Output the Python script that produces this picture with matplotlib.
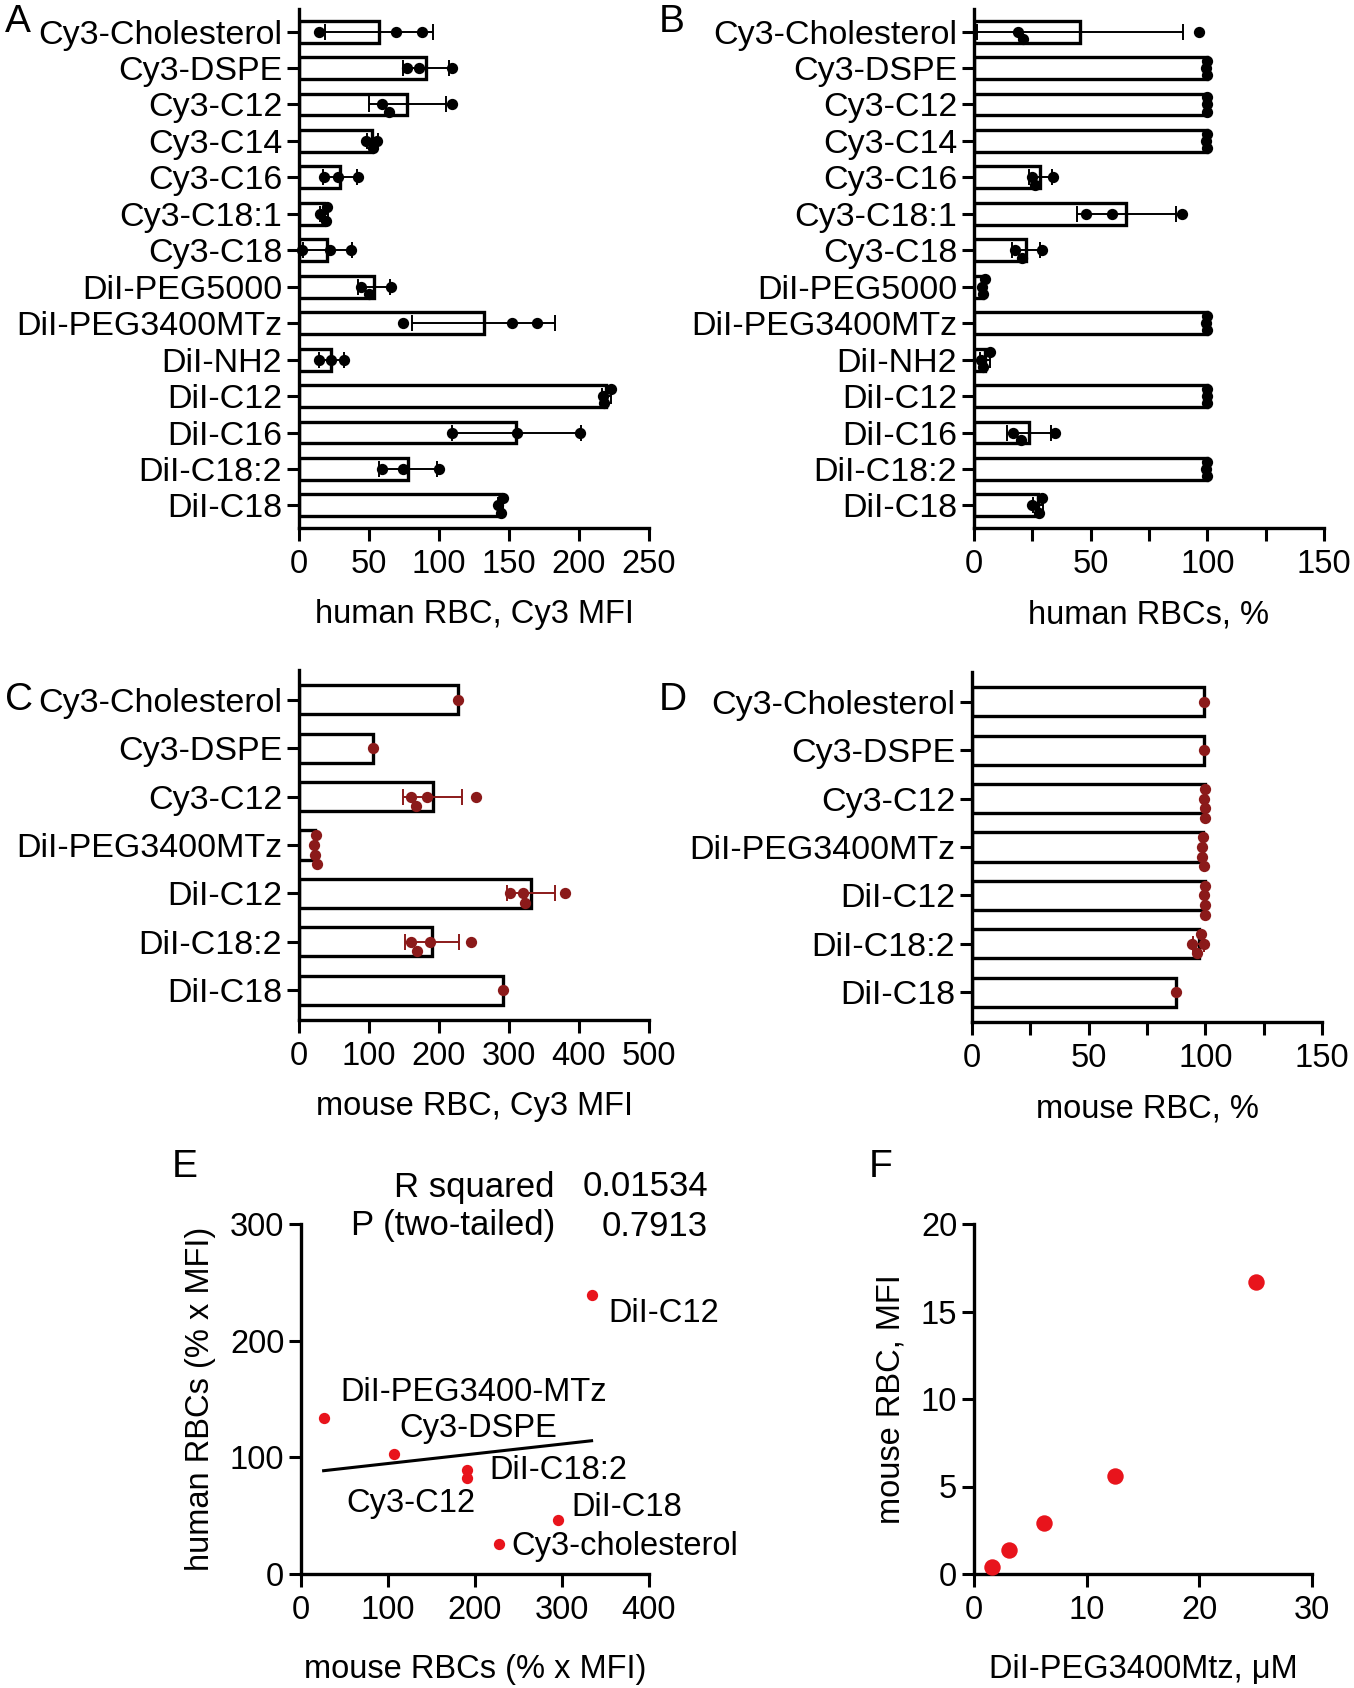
import numpy as np
import matplotlib
matplotlib.use('Agg')
import matplotlib.pyplot as plt
from matplotlib.ticker import MultipleLocator

plt.rcParams['font.family'] = ['Liberation Sans', 'DejaVu Sans']

# ---- data ----
human_labels = ['Cy3-Cholesterol', 'Cy3-DSPE', 'Cy3-C12', 'Cy3-C14', 'Cy3-C16',
                'Cy3-C18:1', 'Cy3-C18', 'DiI-PEG5000', 'DiI-PEG3400MTz', 'DiI-NH2',
                'DiI-C12', 'DiI-C16', 'DiI-C18:2', 'DiI-C18']
human_mfi = [[14, 69, 88], [77, 86, 109], [64, 59, 109], [53, 48, 56], [18, 28, 42],
             [19, 20, 15], [2, 22, 37], [50, 44, 66], [74, 152, 170], [14, 23, 32],
             [218, 223, 217], [109, 156, 201], [59, 74, 100], [144, 146, 142]]
human_pct = [[21, 19, 96.5], [99.6, 99.8, 99.9], [99.7, 99.8, 99.9], [99.6, 99.8, 99.9],
             [25, 26, 34], [48, 59, 89], [20.5, 17.5, 29], [3.5, 4, 4.5],
             [99.6, 99.8, 99.9], [7, 4, 3], [99.7, 99.8, 99.9], [20, 16.5, 34.5],
             [99.6, 99.8, 99.9], [28, 25, 29.3]]

mouse_labels = ['Cy3-Cholesterol', 'Cy3-DSPE', 'Cy3-C12', 'DiI-PEG3400MTz',
                'DiI-C12', 'DiI-C18:2', 'DiI-C18']
mouse_mfi = [[227], [105], [167, 183, 160, 253], [23, 25, 24, 22], [320, 302, 323, 380],
             [169, 187, 160, 246], [292]]
mouse_pct = [[99.6], [99.6], [99.8, 99.6, 99.9, 99.7], [99.2, 98.7, 99.5, 98.4],
             [99.6, 99.8, 99.7, 99.9], [96.5, 98.3, 94.3, 99.3], [87.5]]

e_labels = ['DiI-C12', 'DiI-PEG3400-MTz', 'Cy3-DSPE', 'DiI-C18:2', 'Cy3-C12',
            'DiI-C18', 'Cy3-cholesterol']
e_mouse = [334, 26, 107, 191, 191, 295, 228]
e_human = [239, 134, 103, 89, 82, 46, 26]
e_stats = [('R squared', '0.01534'), ('P (two-tailed)', '0.7913')]

f_conc = [1.5625, 3.125, 6.25, 12.5, 25]
f_mfi = [0.4, 1.4, 2.9, 5.6, 16.7]

# ---- layout (pixels of a 1354x1688 canvas) ----
W, H = 1354, 1688
FS = 23.5
FS_CAT = 24.5
BLACK = 'black'
DARKRED = '#8b1a1a'
RED = '#e8141c'

fig = plt.figure(figsize=(W / 100, H / 100), dpi=100)


def axes_px(left, top, right, bottom):
    return fig.add_axes([left / W, 1 - bottom / H, (right - left) / W, (bottom - top) / H])


def style(ax):
    for s in ['top', 'right']:
        ax.spines[s].set_visible(False)
    for s in ['left', 'bottom']:
        ax.spines[s].set_linewidth(2.4)
    ax.tick_params(which='major', length=9, width=2.2, labelsize=FS, pad=3)
    ax.tick_params(axis='x', pad=6)
    ax.tick_params(which='minor', length=9, width=2.2)


def swarm(vals, xw, dy):
    # stack dots that would overlap, like a prism scatter
    order = np.argsort(vals)
    res = np.zeros(len(vals))
    placed = []
    for i in order:
        o = 0
        for k in [0, 1, -1, 2, -2, 3]:
            o = k * dy
            if all(abs(vals[i] - v) >= xw or abs(o - p) >= dy * 0.99 for v, p in placed):
                break
        res[i] = o
        placed.append((vals[i], o))
    return res


def bar_panel(ax, labels, groups, xmax, step, color, xlabel, minor=None, ms=66):
    pos = np.arange(len(labels))
    means = np.array([np.mean(g) for g in groups])
    sds = np.array([np.std(g, ddof=1) if len(g) > 1 else 0 for g in groups])
    ax.barh(pos, means, height=0.6, color='white', edgecolor='black', linewidth=2.4, zorder=2)
    m = sds > 0
    ax.errorbar(means[m], pos[m], xerr=sds[m], fmt='none', ecolor=color,
                elinewidth=1.4, capsize=6, capthick=1.4, zorder=3)
    xw = 11 * xmax / 350.0
    for p, g in zip(pos, groups):
        g = np.array(g, dtype=float)
        offs = swarm(g, xw, 0.2)
        ax.scatter(g, p + offs, s=ms, color=color, zorder=4, linewidths=0, clip_on=False)
    style(ax)
    ax.set_xlim(0, xmax)
    ax.set_ylim(len(labels) - 1 + 0.62, -0.62)
    ax.set_xticks(np.arange(0, xmax + 1, step))
    if minor:
        ax.xaxis.set_minor_locator(MultipleLocator(minor))
    ax.set_yticks(pos)
    ax.set_yticklabels(labels, fontsize=FS_CAT)
    ax.set_xlabel(xlabel, fontsize=FS, labelpad=14)


axA = axes_px(299, 9, 649, 528)
bar_panel(axA, human_labels, human_mfi, 250, 50, BLACK, 'human RBC, Cy3 MFI')
axB = axes_px(974, 9, 1324, 528)
bar_panel(axB, human_labels, human_pct, 150, 50, BLACK, 'human RBCs, %', minor=25)
axC = axes_px(299, 670, 649, 1020)
bar_panel(axC, mouse_labels, mouse_mfi, 500, 100, DARKRED, 'mouse RBC, Cy3 MFI')
axD = axes_px(972, 672, 1322, 1022)
bar_panel(axD, mouse_labels, mouse_pct, 150, 50, DARKRED, 'mouse RBC, %', minor=25)

# ---- E: correlation ----
axE = axes_px(301, 1224, 649, 1574)
axE.scatter(e_mouse, e_human, s=66, color=RED, linewidths=0, zorder=3)
k, b = np.polyfit(e_mouse, e_human, 1)
xl = np.array([min(e_mouse), max(e_mouse)])
axE.plot(xl, k * xl + b, color='black', lw=2.2, zorder=2)
e_off = {'DiI-C12': (12, -13, 'left'), 'DiI-PEG3400-MTz': (12, 18, 'left'),
         'Cy3-DSPE': (4, 18, 'left'), 'DiI-C18:2': (16, 0, 'left'),
         'Cy3-C12': (6, -18, 'right'), 'DiI-C18': (10, 9, 'left'),
         'Cy3-cholesterol': (9, -2, 'left')}
for lab, x, y in zip(e_labels, e_mouse, e_human):
    dx, dy, ha = e_off[lab]
    axE.annotate(lab, (x, y), xytext=(dx, dy), textcoords='offset points',
                 ha=ha, va='center', fontsize=FS)
style(axE)
axE.set_xlim(0, 400)
axE.set_ylim(0, 300)
axE.set_xticks([0, 100, 200, 300, 400])
axE.set_yticks([0, 100, 200, 300])
axE.set_xlabel('mouse RBCs (% x MFI)', fontsize=FS, labelpad=20)
axE.set_ylabel('human RBCs (% x MFI)', fontsize=FS, labelpad=10)
for i, (name, val) in enumerate(e_stats):
    yy = 1 - (1187 + 39 * i) / H
    fig.text(555 / W, yy, name, fontsize=25, ha='right', va='center')
    fig.text(708 / W, yy, val, fontsize=25, ha='right', va='center')

# ---- F: dose ----
axF = axes_px(974, 1224, 1312, 1574)
axF.scatter(f_conc, f_mfi, s=140, color=RED, linewidths=0, zorder=3, clip_on=False)
style(axF)
axF.set_xlim(0, 30)
axF.set_ylim(0, 20)
axF.set_xticks([0, 10, 20, 30])
axF.set_yticks([0, 5, 10, 15, 20])
axF.set_xlabel('DiI-PEG3400Mtz, μM', fontsize=FS, labelpad=20)
axF.set_ylabel('mouse RBC, MFI', fontsize=FS, labelpad=10)

# panel letters
for letter, x, y in [('A', 5, 22), ('B', 659, 22), ('C', 5, 700), ('D', 659, 700),
                     ('E', 172, 1167), ('F', 869, 1167)]:
    fig.text(x / W, 1 - y / H, letter, fontsize=28, ha='left', va='center')

fig.savefig('out.png', dpi=100)
